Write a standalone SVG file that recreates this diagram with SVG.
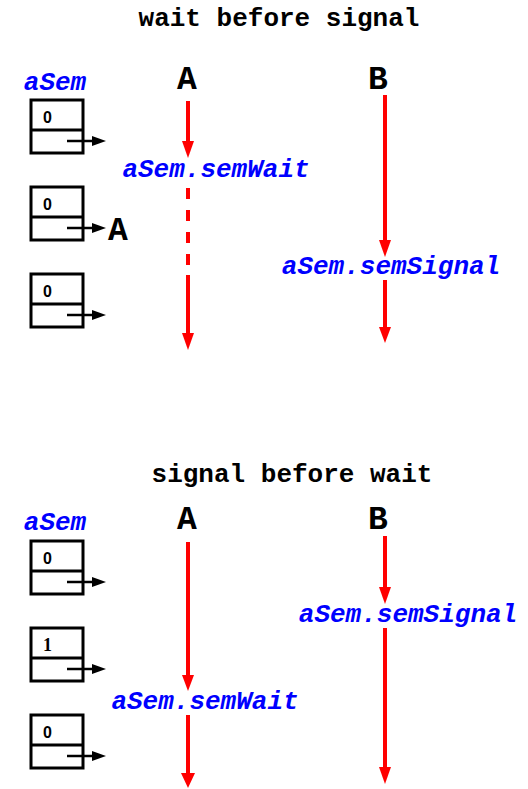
<svg xmlns="http://www.w3.org/2000/svg" width="528" height="789" viewBox="0 0 528 789">
<style>
.title{font-family:"Liberation Mono","Courier New",monospace;font-weight:bold;font-size:26px;fill:#000;text-anchor:middle}
.proc{font-family:"Liberation Mono","Courier New",monospace;font-weight:bold;font-size:33px;fill:#000;text-anchor:middle}
.op{font-family:"Liberation Mono","Courier New",monospace;font-weight:bold;font-style:italic;font-size:26px;fill:#0000ff;text-anchor:middle}
.val{font-family:"Liberation Sans",Arial,sans-serif;font-weight:bold;font-size:16px;fill:#000}
.valserif{font-family:"Liberation Serif","Times New Roman",serif;font-weight:bold;font-size:18px;fill:#000}
.box{fill:#fff;stroke:#000;stroke-width:3}
.ptr{stroke:#000;stroke-width:2.5;fill:none}
.red{stroke:#ff0000;stroke-width:4;fill:none}
.dash{stroke:#ff0000;stroke-width:4;fill:none;stroke-dasharray:11 11}
.rh{fill:#ff0000}
.bh{fill:#000}
</style>
<defs>
<g id="sem">
<rect class="box" x="31" y="0" width="52" height="53"/>
<line x1="31" y1="30" x2="83" y2="30" stroke="#000" stroke-width="3"/>
<line class="ptr" x1="67" y1="41" x2="93" y2="41"/>
<polygon class="bh" points="92,36 106,41 92,46"/>
</g>
</defs>

<g id="title1"><text class="title" x="279" y="26">wait before signal</text></g>
<g id="title2"><text class="title" x="292" y="482">signal before wait</text></g>

<!-- top section -->
<g id="aSemLabel1"><text class="op" x="55" y="90">aSem</text></g>
<g id="procA1"><text class="proc" x="187" y="89">A</text></g>
<g id="procB1"><text class="proc" x="378" y="89">B</text></g>
<g id="sem1a"><use href="#sem" x="0" y="100"/><text class="val" x="43" y="123">0</text></g>
<g id="sem1b"><use href="#sem" x="0" y="187"/><text class="val" x="43" y="210">0</text><text class="proc" x="118" y="240">A</text></g>
<g id="sem1c"><use href="#sem" x="0" y="274"/><text class="val" x="43" y="297">0</text></g>
<g id="opWait1"><text class="op" x="216" y="177">aSem.semWait</text></g>
<g id="opSignal1"><text class="op" x="391" y="274">aSem.semSignal</text></g>

<!-- bottom section -->
<g id="aSemLabel2"><text class="op" x="55" y="530">aSem</text></g>
<g id="procA2"><text class="proc" x="187" y="529">A</text></g>
<g id="procB2"><text class="proc" x="378" y="529">B</text></g>
<g id="sem2a"><use href="#sem" x="0" y="541"/><text class="val" x="43" y="564">0</text></g>
<g id="sem2b"><use href="#sem" x="0" y="628"/><text class="valserif" x="43" y="651">1</text></g>
<g id="sem2c"><use href="#sem" x="0" y="715"/><text class="val" x="43" y="738">0</text></g>
<g id="opWait2"><text class="op" x="205" y="709">aSem.semWait</text></g>
<g id="opSignal2"><text class="op" x="408" y="622">aSem.semSignal</text></g>

<g id="connectors">
<!-- top A -->
<line class="red" x1="188" y1="101" x2="188" y2="143"/>
<polygon class="rh" points="182,141 194,141 188,158"/>
<line class="dash" x1="188" y1="188" x2="188" y2="270"/>
<line class="red" x1="188" y1="275" x2="188" y2="335"/>
<polygon class="rh" points="182,333 194,333 188,350"/>
<!-- top B -->
<line class="red" x1="385" y1="95" x2="385" y2="242"/>
<polygon class="rh" points="379,240 391,240 385,257"/>
<line class="red" x1="385" y1="280" x2="385" y2="329"/>
<polygon class="rh" points="379,327 391,327 385,343"/>
<!-- bottom A -->
<line class="red" x1="188" y1="542" x2="188" y2="677"/>
<polygon class="rh" points="182,675 194,675 188,691"/>
<line class="red" x1="188" y1="715" x2="188" y2="775"/>
<polygon class="rh" points="181,773 195,773 188,788"/>
<!-- bottom B -->
<line class="red" x1="385" y1="536" x2="385" y2="589"/>
<polygon class="rh" points="379,587 391,587 385,604"/>
<line class="red" x1="385" y1="628" x2="385" y2="769"/>
<polygon class="rh" points="379,767 391,767 385,784"/>
</g>
</svg>
